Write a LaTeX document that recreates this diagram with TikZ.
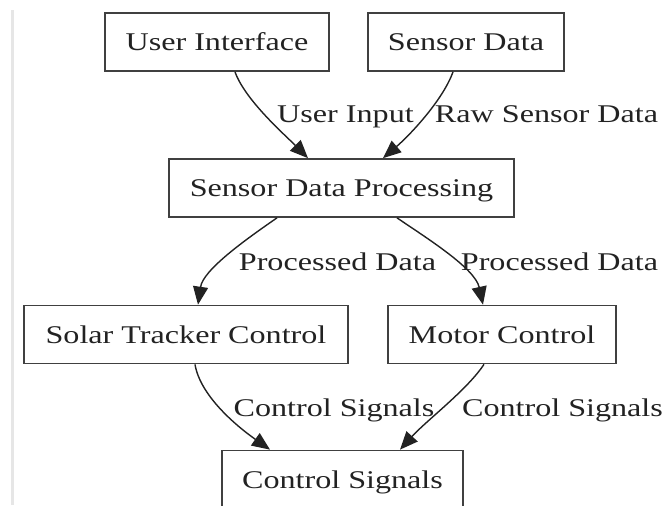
\documentclass[tikz,border=0pt]{standalone}
\usepackage{fontspec}
\setmainfont[FakeStretch=1.26]{Liberation Serif}
\usetikzlibrary{arrows.meta,calc}

\definecolor{ink}{HTML}{222222}
\definecolor{edge}{HTML}{404040}
\definecolor{rule}{HTML}{E6E6E6}

\tikzset{
  box/.style={draw=edge, line width=1.7pt, rectangle, inner sep=0pt,
    minimum height=58pt, text=ink, text height=17pt, text depth=0pt,
    font=\fontsize{25.5}{30}\selectfont},
  elabel/.style={text=ink, inner sep=0pt, text height=17pt, text depth=0pt,
    font=\fontsize{25.5}{30}\selectfont},
  flow/.style={draw=ink, line width=1.4pt,
    -{Triangle[length=18pt,width=15pt]}},
}

\begin{document}
\begin{tikzpicture}[x=1pt,y=-1pt]
  \useasboundingbox (0,0) rectangle (665,506);
  \clip (0,0) rectangle (665,506);

  % faint margin rule on the left
  \draw[rule, line width=3pt] (12.5,10) -- (12.5,505);

  % boxes
  \node[box, minimum width=224pt] (ui)  at (217,42)     {User Interface};
  \node[box, minimum width=196pt] (sd)  at (466,42)     {Sensor Data};
  \node[box, minimum width=345pt] (sdp) at (341.5,188)  {Sensor Data Processing};
  \node[box, minimum width=324pt] (stc) at (186,334.5)  {Solar Tracker Control};
  \node[box, minimum width=228pt] (mc)  at (502,334.5)  {Motor Control};
  \node[box, minimum width=241pt] (cs)  at (342.5,479.5){Control Signals};

  % edges
  \draw[flow] ([xshift=18pt]ui.south)
    .. controls (245,100) and (285,135) .. ([xshift=-33.5pt]sdp.north);
  \draw[flow] ([xshift=-13pt]sd.south)
    .. controls (443,100) and (410,135) .. ([xshift=41.5pt]sdp.north);
  \draw[flow] ([xshift=-64.5pt]sdp.south)
    .. controls (245,240) and (203,270) .. ([xshift=12pt]stc.north);
  \draw[flow] ([xshift=55.5pt]sdp.south)
    .. controls (425,237) and (475,268) .. ([xshift=-19pt]mc.north);
  \draw[flow] ([xshift=9pt]stc.south)
    .. controls (200,395) and (235,425) .. ([xshift=-72.5pt]cs.north);
  \draw[flow] ([xshift=-18pt]mc.south)
    .. controls (467,390) and (427,420) .. ([xshift=57.5pt]cs.north);

  % edge labels
  \node[elabel] (l1) at (345.5,113.5) {User Input};
  \node[elabel] (l2) at (546.5,113.5) {Raw Sensor Data};
  \node[elabel] (l3) at (337.5,262)   {Processed Data};
  \node[elabel] (l4) at (559.5,262)   {Processed Data};
  \node[elabel] (l5) at (334,407.5)   {Control Signals};
  \node[elabel] (l6) at (562.5,407.5) {Control Signals};
\end{tikzpicture}
\end{document}
